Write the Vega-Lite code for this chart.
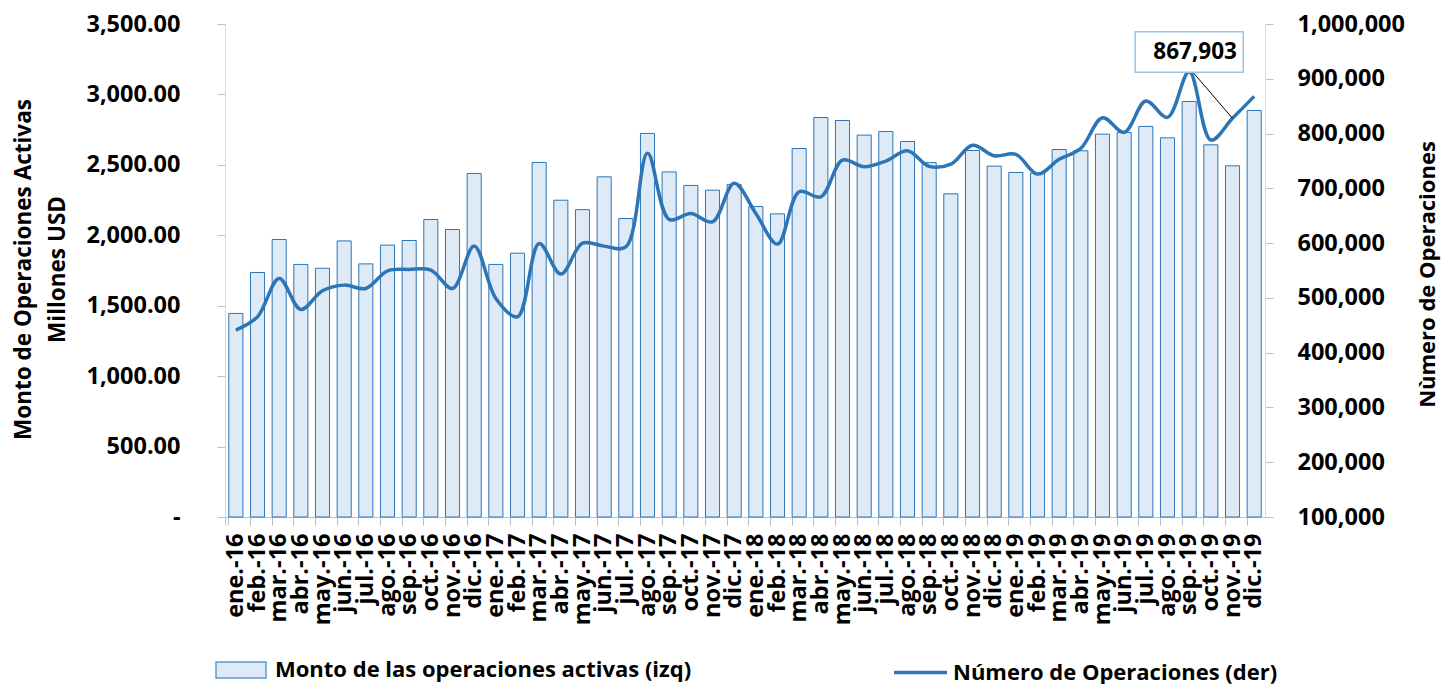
{
  "$schema": "https://vega.github.io/schema/vega-lite/v6.json",
  "width": 1040,
  "height": 493,
  "autosize": {"type": "none"},
  "padding": {"left": 225, "top": 24, "right": 176, "bottom": 167},
  "background": "white",
  "config": {
    "view": {"stroke": null},
    "font": "Open Sans",
    "axis": {
      "labelFont": "Open Sans", "labelFontWeight": "bold", "labelColor": "black", "labelFontSize": 23.5,
      "titleFont": "Open Sans", "titleFontWeight": "bold", "titleColor": "black", "titleFontSize": 22,
      "domainColor": "#d9d9d9", "tickColor": "#bfbfbf", "tickSize": 8, "grid": false
    }
  },
  "data": {"values": [
    {"mes": "ene.-16", "monto": 1445, "ops": 441000},
    {"mes": "feb.-16", "monto": 1736, "ops": 465400},
    {"mes": "mar.-16", "monto": 1970, "ops": 535500},
    {"mes": "abr.-16", "monto": 1793, "ops": 478900},
    {"mes": "may.-16", "monto": 1766, "ops": 512900},
    {"mes": "jun.-16", "monto": 1960, "ops": 523300},
    {"mes": "jul.-16", "monto": 1797, "ops": 517200},
    {"mes": "ago.-16", "monto": 1930, "ops": 549400},
    {"mes": "sep.-16", "monto": 1963, "ops": 551900},
    {"mes": "oct.-16", "monto": 2112, "ops": 550700},
    {"mes": "nov.-16", "monto": 2041, "ops": 517200},
    {"mes": "dic.-16", "monto": 2439, "ops": 594500},
    {"mes": "ene.-17", "monto": 1793, "ops": 499000},
    {"mes": "feb.-17", "monto": 1873, "ops": 465400},
    {"mes": "mar.-17", "monto": 2517, "ops": 599400},
    {"mes": "abr.-17", "monto": 2249, "ops": 543400},
    {"mes": "may.-17", "monto": 2182, "ops": 600000},
    {"mes": "jun.-17", "monto": 2415, "ops": 594500},
    {"mes": "jul.-17", "monto": 2119, "ops": 593000},
    {"mes": "ago.-17", "monto": 2723, "ops": 763900},
    {"mes": "sep.-17", "monto": 2450, "ops": 643300},
    {"mes": "oct.-17", "monto": 2354, "ops": 654200},
    {"mes": "nov.-17", "monto": 2320, "ops": 638900},
    {"mes": "dic.-17", "monto": 2361, "ops": 709100},
    {"mes": "ene.-18", "monto": 2204, "ops": 654200},
    {"mes": "feb.-18", "monto": 2152, "ops": 598200},
    {"mes": "mar.-18", "monto": 2616, "ops": 693700},
    {"mes": "abr.-18", "monto": 2836, "ops": 684600},
    {"mes": "may.-18", "monto": 2815, "ops": 751600},
    {"mes": "jun.-18", "monto": 2711, "ops": 739400},
    {"mes": "jul.-18", "monto": 2737, "ops": 749800},
    {"mes": "ago.-18", "monto": 2666, "ops": 768600},
    {"mes": "sep.-18", "monto": 2516, "ops": 740000},
    {"mes": "oct.-18", "monto": 2294, "ops": 744300},
    {"mes": "nov.-18", "monto": 2602, "ops": 778500},
    {"mes": "dic.-18", "monto": 2491, "ops": 759500},
    {"mes": "ene.-19", "monto": 2446, "ops": 762000},
    {"mes": "feb.-19", "monto": 2440, "ops": 726000},
    {"mes": "mar.-19", "monto": 2609, "ops": 752900},
    {"mes": "abr.-19", "monto": 2600, "ops": 773000},
    {"mes": "may.-19", "monto": 2718, "ops": 828900},
    {"mes": "jun.-19", "monto": 2730, "ops": 802200},
    {"mes": "jul.-19", "monto": 2773, "ops": 859400},
    {"mes": "ago.-19", "monto": 2692, "ops": 829600},
    {"mes": "sep.-19", "monto": 2950, "ops": 912900},
    {"mes": "oct.-19", "monto": 2642, "ops": 788200},
    {"mes": "nov.-19", "monto": 2493, "ops": 827800},
    {"mes": "dic.-19", "monto": 2886, "ops": 867903}
  ]},
  "encoding": {
    "x": {
      "field": "mes", "type": "nominal", "sort": null, "title": null,
      "scale": {
        "domain": ["ene.-16","feb.-16","mar.-16","abr.-16","may.-16","jun.-16","jul.-16","ago.-16","sep.-16","oct.-16","nov.-16","dic.-16",
                   "ene.-17","feb.-17","mar.-17","abr.-17","may.-17","jun.-17","jul.-17","ago.-17","sep.-17","oct.-17","nov.-17","dic.-17",
                   "ene.-18","feb.-18","mar.-18","abr.-18","may.-18","jun.-18","jul.-18","ago.-18","sep.-18","oct.-18","nov.-18","dic.-18",
                   "ene.-19","feb.-19","mar.-19","abr.-19","may.-19","jun.-19","jul.-19","ago.-19","sep.-19","oct.-19","nov.-19","dic.-19"],
        "paddingInner": 0.35, "paddingOuter": 0.175
      },
      "axis": {
        "labelAngle": -90, "labelAlign": "right", "labelBaseline": "middle", "labelPadding": 8,
        "bandPosition": 0, "tickExtra": true, "labelFontSize": 23.5, "domainColor": "#bfbfbf"
      }
    }
  },
  "layer": [
    {
      "mark": {"type": "bar", "stroke": "#2e75b6", "strokeWidth": 1},
      "encoding": {
        "y": {
          "field": "monto", "type": "quantitative",
          "scale": {"domain": [0, 3500], "nice": false},
          "axis": {
            "values": [0, 500, 1000, 1500, 2000, 2500, 3000, 3500],
            "labelExpr": "datum.value == 0 ? '-\u00a0\u00a0' : format(datum.value, ',.2f')",
            "labelPadding": 37,
            "title": ["Monto de Operaciones Activas", "Millones USD"],
            "titleAngle": -90, "titleAlign": "center", "titleBaseline": "middle", "titleFontSize": 22.5,
            "titleX": -202, "titleY": 245, "titleLineHeight": 34
          }
        },
        "fill": {
          "datum": "Monto de las operaciones activas (izq)",
          "scale": {"range": ["#deebf7"]},
          "legend": {
            "orient": "none", "legendX": -10, "legendY": 620, "title": null, "padding": 0,
            "symbolType": "M-1,-0.32H1V0.32H-1Z", "symbolSize": 2500,
            "symbolStrokeColor": "#5b9bd5", "symbolStrokeWidth": 1.5, "symbolFillColor": "#deebf7",
            "labelFont": "Open Sans", "labelFontWeight": "bold", "labelFontSize": 22, "labelColor": "black",
            "labelOffset": 8, "labelLimit": 700
          }
        }
      }
    },
    {
      "layer": [
        {
          "mark": {"type": "line", "interpolate": "catmull-rom", "strokeWidth": 3.5},
          "encoding": {
            "y": {
              "field": "ops", "type": "quantitative",
              "scale": {"domain": [100000, 1000000], "nice": false},
              "axis": {
                "orient": "right",
                "values": [100000, 200000, 300000, 400000, 500000, 600000, 700000, 800000, 900000, 1000000],
                "format": ",d", "labelPadding": 24,
                "title": "Nùmero de Operaciones",
                "titleAngle": -90, "titleAlign": "center", "titleBaseline": "middle", "titleFontSize": 22,
                "titleX": 162, "titleY": 250
              }
            },
            "stroke": {
              "datum": "Número de Operaciones (der)",
              "scale": {"range": ["#2e75b6"]},
              "legend": {
                "orient": "none", "legendX": 667, "legendY": 620, "title": null, "padding": 0,
                "symbolType": "stroke", "symbolSize": 2809, "symbolStrokeWidth": 3.5,
                "labelFont": "Open Sans", "labelFontWeight": "bold", "labelFontSize": 22, "labelColor": "black",
                "labelOffset": 4, "labelLimit": 700
              }
            }
          }
        },
        {
          "data": {"values": [{}]},
          "mark": {"type": "rule", "color": "black", "strokeWidth": 1},
          "encoding": {
            "x": {"datum": "sep.-19", "bandPosition": 0.77},
            "x2": {"datum": "nov.-19"},
            "y": {"datum": 911800, "type": "quantitative"},
            "y2": {"datum": 827800}
          }
        },
        {
          "data": {"values": [{}]},
          "mark": {"type": "rect", "fill": "white", "stroke": "#9dc3e6", "strokeWidth": 1.5, "width": 108},
          "encoding": {
            "x": {"datum": "sep.-19", "bandPosition": 0.81},
            "y": {"datum": 986000, "type": "quantitative"},
            "y2": {"datum": 911800}
          }
        },
        {
          "data": {"values": [{}]},
          "mark": {"type": "text", "font": "Open Sans", "fontWeight": "bold", "fontSize": 22.5, "color": "black", "align": "center", "baseline": "middle"},
          "encoding": {
            "x": {"datum": "sep.-19", "bandPosition": 0.92},
            "y": {"datum": 948000, "type": "quantitative"},
            "text": {"value": "867,903"}
          }
        }
      ]
    }
  ],
  "resolve": {"scale": {"y": "independent"}}
}
